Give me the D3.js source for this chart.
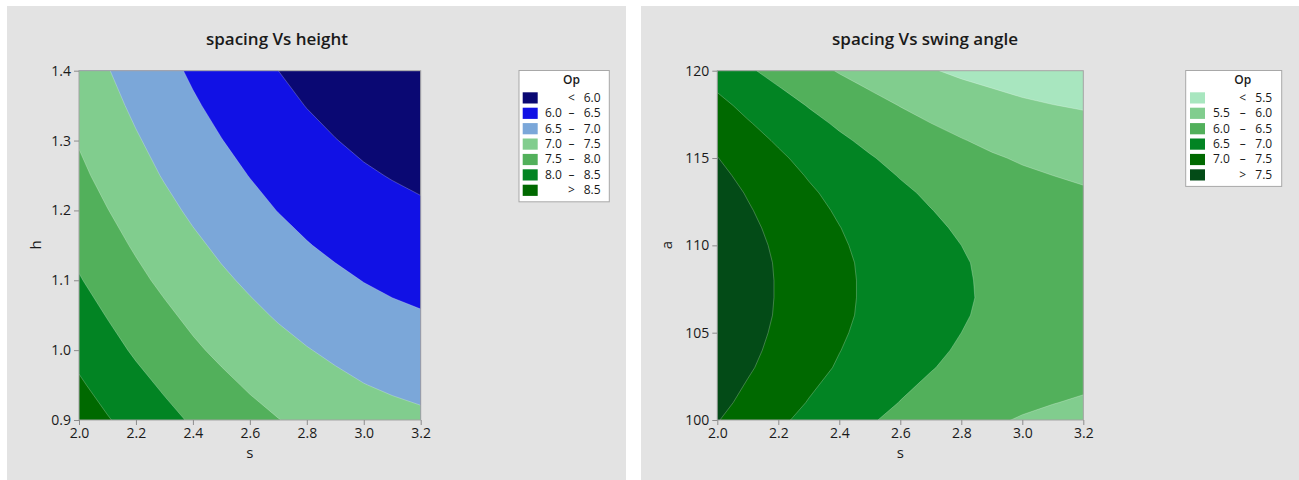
<!DOCTYPE html>
<html>
<head>
<meta charset="utf-8">
<script src="https://cdn.jsdelivr.net/npm/d3@7"></script>
<style>
body { margin: 0; background: #fff; }
text { font-family: "Open Sans", "Noto Sans", sans-serif; fill: #1a1a1a; }
</style>
</head>
<body>
<svg id="chart" width="1299" height="480"></svg>
<script>
// grid columns (spacing s), shared by both plots
var sValues = [2.0, 2.1, 2.2, 2.3, 2.4, 2.5, 2.6, 2.7, 2.8, 2.9, 3.0, 3.1, 3.2];

var hValues = [0.90, 0.95, 1.00, 1.05, 1.10, 1.15, 1.20, 1.25, 1.30, 1.35, 1.40];
var opHeight = [
  [8.75, 8.53, 8.32, 8.13, 7.95, 7.79, 7.64, 7.51, 7.40, 7.29, 7.21, 7.14, 7.08],
  [8.56, 8.33, 8.13, 7.94, 7.76, 7.60, 7.45, 7.32, 7.20, 7.10, 7.01, 6.94, 6.89],
  [8.37, 8.15, 7.94, 7.75, 7.57, 7.41, 7.27, 7.13, 7.02, 6.92, 6.83, 6.76, 6.70],
  [8.20, 7.98, 7.77, 7.58, 7.40, 7.24, 7.09, 6.96, 6.84, 6.74, 6.65, 6.58, 6.53],
  [8.03, 7.81, 7.60, 7.41, 7.23, 7.07, 6.93, 6.79, 6.68, 6.58, 6.49, 6.42, 6.36],
  [7.88, 7.65, 7.45, 7.26, 7.08, 6.92, 6.77, 6.64, 6.52, 6.42, 6.33, 6.26, 6.21],
  [7.73, 7.51, 7.30, 7.11, 6.93, 6.77, 6.62, 6.49, 6.38, 6.27, 6.19, 6.12, 6.06],
  [7.59, 7.37, 7.16, 6.97, 6.80, 6.63, 6.49, 6.36, 6.24, 6.14, 6.05, 5.98, 5.92],
  [7.47, 7.24, 7.04, 6.85, 6.67, 6.51, 6.36, 6.23, 6.11, 6.01, 5.92, 5.85, 5.80],
  [7.35, 7.13, 6.92, 6.73, 6.55, 6.39, 6.24, 6.11, 5.99, 5.89, 5.81, 5.73, 5.68],
  [7.24, 7.02, 6.81, 6.62, 6.44, 6.28, 6.13, 6.00, 5.89, 5.78, 5.70, 5.63, 5.57]
];
var heightBreaks = [6.0, 6.5, 7.0, 7.5, 8.0, 8.5];
var hTicks = [0.9, 1.0, 1.1, 1.2, 1.3, 1.4];

// right plot: rows are swing angle a (bottom to top)
var aValues = [100, 101, 102, 103, 104, 105, 106, 107, 108, 109, 110,
               111, 112, 113, 114, 115, 116, 117, 118, 119, 120];
var opAngle = [
  [7.52, 7.29, 7.08, 6.88, 6.70, 6.54, 6.39, 6.26, 6.15, 6.05, 5.97, 5.91, 5.86],
  [7.62, 7.39, 7.18, 6.98, 6.80, 6.64, 6.49, 6.36, 6.25, 6.15, 6.07, 6.01, 5.96],
  [7.70, 7.47, 7.26, 7.06, 6.88, 6.72, 6.57, 6.44, 6.33, 6.24, 6.16, 6.09, 6.05],
  [7.78, 7.55, 7.33, 7.14, 6.96, 6.79, 6.65, 6.52, 6.40, 6.31, 6.23, 6.16, 6.12],
  [7.83, 7.60, 7.39, 7.19, 7.01, 6.85, 6.70, 6.57, 6.46, 6.36, 6.28, 6.22, 6.17],
  [7.87, 7.64, 7.43, 7.23, 7.05, 6.89, 6.74, 6.61, 6.50, 6.40, 6.32, 6.26, 6.22],
  [7.90, 7.67, 7.46, 7.26, 7.08, 6.92, 6.77, 6.64, 6.53, 6.43, 6.35, 6.29, 6.24],
  [7.91, 7.68, 7.47, 7.27, 7.09, 6.93, 6.78, 6.65, 6.54, 6.45, 6.37, 6.30, 6.26],
  [7.91, 7.68, 7.47, 7.27, 7.09, 6.93, 6.78, 6.65, 6.54, 6.44, 6.36, 6.30, 6.26],
  [7.90, 7.67, 7.46, 7.26, 7.08, 6.92, 6.77, 6.64, 6.53, 6.43, 6.35, 6.29, 6.24],
  [7.87, 7.64, 7.43, 7.23, 7.05, 6.89, 6.74, 6.61, 6.50, 6.40, 6.32, 6.26, 6.21],
  [7.83, 7.60, 7.38, 7.19, 7.01, 6.84, 6.70, 6.57, 6.45, 6.36, 6.28, 6.21, 6.17],
  [7.77, 7.54, 7.32, 7.13, 6.95, 6.78, 6.64, 6.51, 6.39, 6.30, 6.22, 6.16, 6.11],
  [7.70, 7.47, 7.25, 7.06, 6.88, 6.71, 6.57, 6.44, 6.32, 6.23, 6.15, 6.08, 6.04],
  [7.61, 7.38, 7.17, 6.97, 6.79, 6.63, 6.48, 6.35, 6.24, 6.14, 6.06, 6.00, 5.95],
  [7.51, 7.28, 7.07, 6.87, 6.69, 6.53, 6.38, 6.25, 6.14, 6.04, 5.96, 5.90, 5.85],
  [7.39, 7.16, 6.95, 6.75, 6.57, 6.41, 6.26, 6.13, 6.02, 5.92, 5.84, 5.78, 5.74],
  [7.26, 7.03, 6.82, 6.62, 6.44, 6.28, 6.13, 6.00, 5.89, 5.80, 5.72, 5.65, 5.61],
  [7.12, 6.89, 6.68, 6.48, 6.30, 6.14, 5.99, 5.86, 5.75, 5.65, 5.57, 5.51, 5.46],
  [6.96, 6.73, 6.52, 6.32, 6.14, 5.98, 5.83, 5.70, 5.59, 5.50, 5.42, 5.35, 5.31],
  [6.79, 6.56, 6.35, 6.15, 5.97, 5.81, 5.66, 5.53, 5.42, 5.32, 5.24, 5.18, 5.13]
];
var angleBreaks = [5.5, 6.0, 6.5, 7.0, 7.5];
var aTicks = [100, 105, 110, 115, 120];

var sTicks = [2.0, 2.2, 2.4, 2.6, 2.8, 3.0, 3.2];

var heightColors = ["#0a0873", "#1111e5", "#7ba7d9", "#81cd8e", "#52b05b", "#028423", "#006900"];
var angleColors = ["#a8e6bf", "#81cd8e", "#52b05b", "#028423", "#006900", "#034b17"];

var svg = d3.select("#chart");
var f1 = d3.format(".1f");

function drawPanel(cfg) {
    var g = svg.append("g");

    // grey panel background
    g.append("rect")
        .attr("x", cfg.panel[0]).attr("y", 6)
        .attr("width", cfg.panel[1] - cfg.panel[0]).attr("height", 474)
        .attr("fill", "#e3e3e3");

    var p = cfg.plot;
    var x = d3.scaleLinear().domain([2.0, 3.2]).range([p.left, p.right]);
    var y = d3.scaleLinear().domain(cfg.yDomain).range([p.bottom, p.top]);

    g.append("clipPath").attr("id", cfg.id + "-clip")
        .append("rect")
        .attr("x", p.left).attr("y", p.top)
        .attr("width", p.right - p.left).attr("height", p.bottom - p.top);

    var plot = g.append("g").attr("clip-path", "url(#" + cfg.id + "-clip)");

    //lowest band fills the whole plot, the rest are stacked on top
    plot.append("rect")
        .attr("x", p.left).attr("y", p.top)
        .attr("width", p.right - p.left).attr("height", p.bottom - p.top)
        .attr("fill", cfg.colors[0]);

    var xs = sValues, ys = cfg.yValues;
    var dxs = xs[1] - xs[0], dys = ys[1] - ys[0];
    var proj = d3.geoTransform({
        point: function(px, py) {
            this.stream.point(x(xs[0] + (px - 0.5) * dxs), y(ys[0] + (py - 0.5) * dys));
        }
    });
    var path = d3.geoPath(proj);

    var contours = d3.contours()
        .size([xs.length, ys.length])
        .thresholds(cfg.breaks)(cfg.grid.flat());

    plot.selectAll("path.band")
        .data(contours)
        .enter().append("path")
        .attr("class", "band")
        .attr("d", path)
        .attr("fill", function(d, i) { return cfg.colors[i + 1]; })
        .attr("stroke", "rgba(255,255,255,0.35)")
        .attr("stroke-width", 0.7)
        .attr("stroke-linejoin", "round");

    // frame
    g.append("rect")
        .attr("x", p.left).attr("y", p.top)
        .attr("width", p.right - p.left).attr("height", p.bottom - p.top)
        .attr("fill", "none").attr("stroke", "#a3a3a3");

    var xAxis = g.append("g")
        .attr("transform", "translate(0," + p.bottom + ")")
        .call(d3.axisBottom(x).tickValues(sTicks).tickSize(5).tickFormat(f1));
    var yAxis = g.append("g")
        .attr("transform", "translate(" + p.left + ",0)")
        .call(d3.axisLeft(y).tickValues(cfg.yTicks).tickSize(5).tickFormat(cfg.yFormat));
    [xAxis, yAxis].forEach(function(ax) {
        ax.select(".domain").remove();
        ax.selectAll(".tick line").attr("stroke", "#8c8c8c");
        ax.selectAll(".tick text").style("font-size", "14px")
            .style("font-family", '"Open Sans", sans-serif').attr("fill", "#1a1a1a");
    });

    g.append("text")
        .attr("x", cfg.titleX).attr("y", 45)
        .attr("text-anchor", "middle")
        .style("font-size", "17px").style("font-weight", 600)
        .text(cfg.title);

    g.append("text")
        .attr("x", (p.left + p.right) / 2).attr("y", 458)
        .attr("text-anchor", "middle")
        .style("font-size", "15px")
        .text("s");

    g.append("text")
        .attr("transform", "translate(" + cfg.yLabelX + "," + 245 + ") rotate(-90)")
        .attr("text-anchor", "middle")
        .style("font-size", "15px")
        .text(cfg.yLabel);

    // legend
    var L = cfg.legend;
    var n = cfg.colors.length;
    var lg = g.append("g");
    lg.append("rect")
        .attr("x", L.x).attr("y", 70.5)
        .attr("width", L.w).attr("height", 22 + n * 15.4 + 1.5)
        .attr("fill", "#fff").attr("stroke", "#a8a8a8");
    lg.append("text")
        .attr("x", L.x + L.mid).attr("y", 84)
        .attr("text-anchor", "middle")
        .style("font-size", "12px").style("font-weight", 600)
        .text("Op");
    cfg.colors.forEach(function(c, i) {
        var top = 92.3 + i * 15.4;
        lg.append("rect")
            .attr("x", L.x + L.sw).attr("y", top)
            .attr("width", 15).attr("height", 11.2)
            .attr("fill", c);
        var lo = i === 0 ? null : cfg.breaks[i - 1];
        var hi = i === n - 1 ? null : cfg.breaks[i];
        var sym = lo === null ? "<" : (hi === null ? ">" : "\u2013");
        var base = top + 9.5;
        if (lo !== null && hi !== null) {
            lg.append("text").attr("x", L.x + L.n1).attr("y", base)
                .style("font-size", "12px").text(f1(lo));
        }
        lg.append("text").attr("x", L.x + L.mid).attr("y", base)
            .attr("text-anchor", "middle")
            .style("font-size", "12px").text(sym);
        lg.append("text").attr("x", L.x + L.n2).attr("y", base)
            .attr("text-anchor", "end")
            .style("font-size", "12px").text(f1(hi === null ? lo : hi));
    });
}

drawPanel({
    id: "height",
    panel: [7, 626],
    plot: {left: 79, right: 420.7, top: 70.7, bottom: 420},
    yDomain: [0.9, 1.4],
    yValues: hValues,
    grid: opHeight,
    breaks: heightBreaks,
    colors: heightColors,
    yTicks: hTicks,
    yFormat: f1,
    title: "spacing Vs height",
    titleX: 277,
    yLabel: "h",
    yLabelX: 41,
    legend: {x: 519, w: 90.3, sw: 3.7, n1: 26, mid: 52.5, n2: 81.5}
});

drawPanel({
    id: "angle",
    panel: [641, 1299],
    plot: {left: 717.3, right: 1083.3, top: 70.7, bottom: 420},
    yDomain: [100, 120],
    yValues: aValues,
    grid: opAngle,
    breaks: angleBreaks,
    colors: angleColors,
    yTicks: aTicks,
    yFormat: d3.format("d"),
    title: "spacing Vs swing angle",
    titleX: 925,
    yLabel: "a",
    yLabelX: 671.5,
    legend: {x: 1185.7, w: 96, sw: 4.3, n1: 27.3, mid: 57, n2: 86.5}
});
</script>
</body>
</html>
